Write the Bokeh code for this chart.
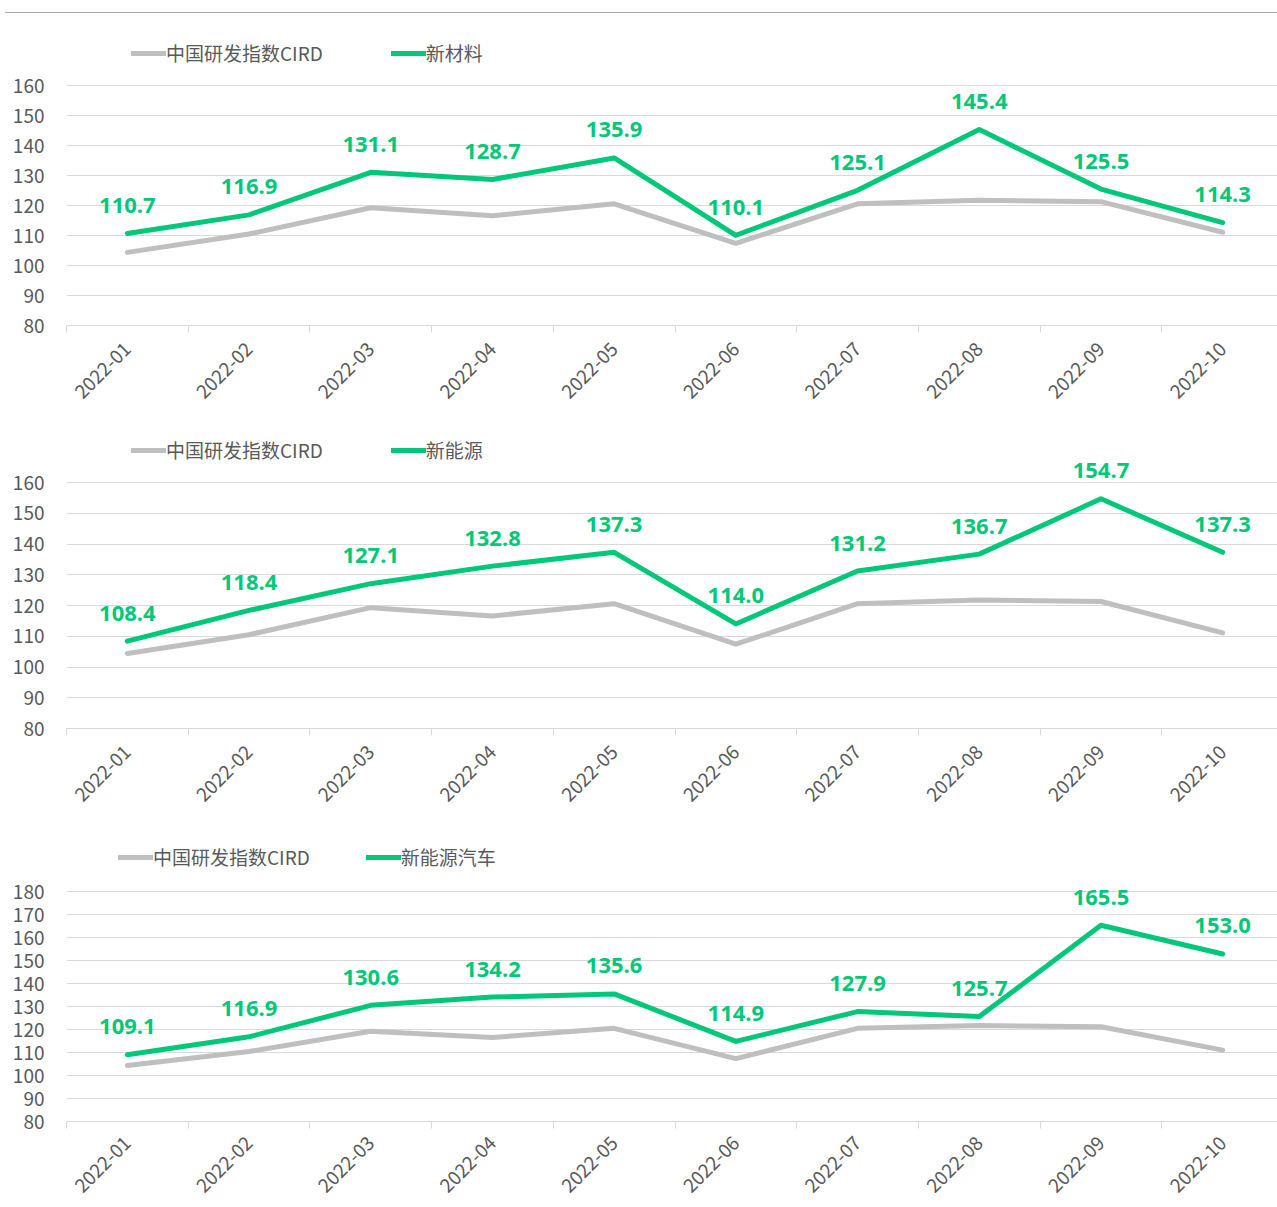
import math
from bokeh.plotting import figure
from bokeh.models import FixedTicker, Div, ColumnDataSource
from bokeh.layouts import column
from bokeh.embed import file_html
from bokeh.resources import INLINE
from bokeh.core.properties import value

months = ["2022-01", "2022-02", "2022-03", "2022-04", "2022-05",
          "2022-06", "2022-07", "2022-08", "2022-09", "2022-10"]
cird = [104.4, 110.5, 119.3, 116.6, 120.6, 107.4, 120.6, 121.8, 121.3, 111.1]
cird_name = "中国研发指数CIRD"

new_materials = [110.7, 116.9, 131.1, 128.7, 135.9, 110.1, 125.1, 145.4, 125.5, 114.3]
new_energy = [108.4, 118.4, 127.1, 132.8, 137.3, 114.0, 131.2, 136.7, 154.7, 137.3]
nev = [109.1, 116.9, 130.6, 134.2, 135.6, 114.9, 127.9, 125.7, 165.5, 153.0]

series_names = ["新材料", "新能源", "新能源汽车"]
y_ticks_a = [80, 90, 100, 110, 120, 130, 140, 150, 160]
y_ticks_b = [80, 90, 100, 110, 120, 130, 140, 150, 160, 170, 180]

GREEN = "#00c878"
GRAY = "#bfbfbf"
TXT = "#595959"
GRID = "#d9d9d9"
FONT = "Noto Sans CJK SC"
NUMFONT = "Open Sans"
W = 1277
FRAME_W = W - 66
CAT_PX = 121.7  # pixel width of one month slot


def make_panel(vals, name, yticks, ytop, height, border_top, border_bottom,
               legend_loc, legend_spacing, xstandoff=13):
    idx = list(range(len(months)))
    p = figure(width=W, height=height,
               x_range=(-0.5, -0.5 + FRAME_W / CAT_PX),
               y_range=(yticks[0], ytop), toolbar_location=None,
               output_backend="svg", min_border_left=66, min_border_right=0,
               min_border_top=border_top, min_border_bottom=border_bottom)
    p.outline_line_color = None
    p.background_fill_color = "white"

    p.line(idx, cird, line_color=GRAY, line_width=5, line_cap="round",
           line_join="round", legend_label=cird_name)
    p.line(idx, vals, line_color=GREEN, line_width=5, line_cap="round",
           line_join="round", legend_label=name)

    src = ColumnDataSource(dict(x=idx, y=vals, t=[f"{v:.1f}" for v in vals]))
    p.text(x="x", y="y", text="t", source=src, y_offset=-28,
           text_align="center", text_baseline="middle",
           text_color=GREEN, text_font_size="22px",
           text_font_style="bold", text_font=value(NUMFONT))

    p.xgrid.grid_line_color = None
    p.ygrid.ticker = FixedTicker(ticks=yticks)
    p.ygrid.grid_line_color = GRID
    p.ygrid.grid_line_width = 1

    ya = p.yaxis[0]
    ya.ticker = FixedTicker(ticks=yticks)
    ya.axis_line_color = None
    ya.major_tick_line_color = None
    ya.minor_tick_line_color = None
    ya.major_tick_out = 0
    ya.major_tick_in = 0
    ya.major_label_text_font_size = "19px"
    ya.major_label_text_color = TXT
    ya.major_label_text_font = FONT
    ya.major_label_standoff = 22

    xa = p.xaxis[0]
    xa.ticker = FixedTicker(ticks=idx, minor_ticks=[i - 0.5 for i in range(len(months) + 1)])
    xa.major_label_overrides = {i: m for i, m in enumerate(months)}
    xa.axis_line_color = GRID
    xa.axis_line_width = 1
    xa.major_tick_line_color = None
    xa.major_tick_out = 0
    xa.major_tick_in = 0
    xa.minor_tick_line_color = GRID
    xa.minor_tick_out = 7
    xa.minor_tick_in = 0
    xa.major_label_orientation = math.pi / 4
    xa.major_label_standoff = xstandoff
    xa.major_label_text_font_size = "19px"
    xa.major_label_text_color = TXT
    xa.major_label_text_font = FONT

    lg = p.legend[0]
    lg.orientation = "horizontal"
    lg.location = legend_loc
    lg.label_text_font = FONT
    lg.label_text_font_size = "19px"
    lg.label_text_color = TXT
    lg.glyph_width = 35
    lg.glyph_height = 24
    lg.label_height = 24
    lg.label_standoff = 0
    lg.spacing = legend_spacing
    lg.padding = 0
    lg.margin = 0
    lg.border_line_color = None
    lg.background_fill_alpha = 0
    return p


topline = Div(text="", width=W, height=8,
              styles={"border-bottom": "1px solid #a6a6a6"})

p1 = make_panel(new_materials, series_names[0], y_ticks_a, 160 + 50 / 2.9875,
                406, 17, 99, (65, 259), 68)
p2 = make_panel(new_energy, series_names[1], y_ticks_a, 160 + 50 / 3.075,
                402, 8, 98, (65, 265), 68)
p3 = make_panel(nev, series_names[2], y_ticks_b, 180 + 49 / 2.32,
                375, 17, 77, (52, 251), 56, xstandoff=11)

layout = column(topline, p1, p2, p3, spacing=0)
open("out.html", "w").write(file_html(layout, INLINE))
